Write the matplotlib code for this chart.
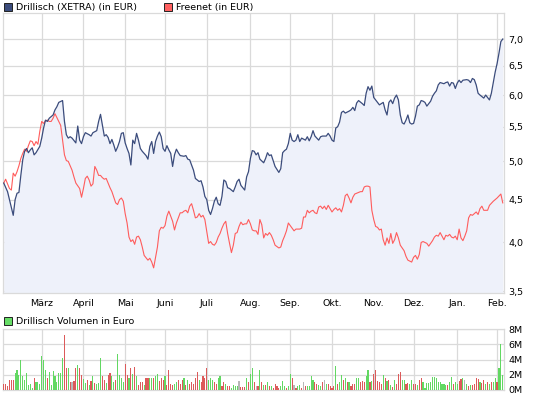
import numpy as np
import pandas as pd
import matplotlib
matplotlib.use("Agg")
import matplotlib.pyplot as plt
from matplotlib.patches import Rectangle

# ---------------- data ----------------
start_date = "2009-02-02"
n_days = 264

drillisch_day = [0, 2, 3, 5, 6, 7, 8, 9, 10, 11, 12, 13, 14, 15, 16, 17, 19, 20, 21, 22, 23, 24, 26, 27, 28, 29,
                 31, 32, 33, 34, 35, 36, 38, 39, 40, 41, 42, 43, 45, 46, 47, 49, 50, 51, 52, 53, 54, 55, 56, 57,
                 58, 59, 60, 61, 62, 63, 64, 65, 66, 67, 68, 69, 70, 71, 72, 73, 75, 76, 77, 78, 79, 80, 81, 82,
                 83, 84, 85, 86, 87, 88, 89, 90, 91, 92, 93, 95, 96, 97, 98, 99, 100, 101, 103, 104, 105, 106,
                 107, 108, 109, 110, 111, 112, 113, 114, 115, 116, 117, 118, 119, 121, 122, 123, 124, 125, 126,
                 127, 128, 129, 130, 131, 132, 133, 134, 135, 137, 138, 139, 140, 141, 142, 143, 145, 146, 147,
                 148, 149, 150, 151, 152, 153, 154, 155, 156, 157, 159, 160, 161, 162, 163, 164, 166, 167, 168,
                 170, 171, 172, 173, 174, 175, 176, 177, 178, 179, 180, 182, 183, 184, 185, 186, 187, 189, 190,
                 191, 192, 193, 194, 195, 196, 198, 199, 200, 201, 202, 203, 204, 205, 206, 207, 208, 209, 210,
                 211, 212, 213, 214, 215, 216, 217, 218, 219, 220, 221, 222, 223, 224, 225, 226, 227, 228, 229,
                 230, 232, 233, 234, 235, 236, 237, 238, 239, 240, 241, 242, 244, 245, 246, 247, 248, 249, 250,
                 251, 253, 254, 256, 257, 259, 260, 261, 262, 263]
drillisch_eur = [4.71, 4.60, 4.50, 4.31, 4.50, 4.58, 4.59, 4.81, 5.02, 5.14, 5.18, 5.12, 5.16, 5.19, 5.09, 5.12,
                 5.21, 5.33, 5.48, 5.60, 5.58, 5.63, 5.68, 5.76, 5.81, 5.88, 5.91, 5.58, 5.38, 5.33, 5.35, 5.33,
                 5.26, 5.51, 5.30, 5.25, 5.35, 5.41, 5.38, 5.36, 5.41, 5.44, 5.58, 5.69, 5.52, 5.36, 5.38, 5.34,
                 5.25, 5.31, 5.23, 5.14, 5.20, 5.28, 5.40, 5.41, 5.26, 5.18, 5.11, 4.95, 5.30, 5.25, 5.40, 5.30,
                 5.18, 5.14, 5.08, 5.03, 5.21, 5.28, 5.11, 5.28, 5.36, 5.42, 5.35, 5.18, 5.14, 5.22, 5.16, 5.11,
                 4.93, 5.09, 5.17, 5.12, 5.08, 5.07, 5.08, 5.03, 5.02, 4.95, 4.88, 4.77, 4.73, 4.74, 4.66, 4.54,
                 4.50, 4.37, 4.32, 4.39, 4.48, 4.53, 4.45, 4.43, 4.54, 4.75, 4.73, 4.65, 4.64, 4.60, 4.66, 4.73,
                 4.76, 4.68, 4.65, 4.62, 4.79, 4.86, 5.04, 5.15, 5.14, 5.09, 5.12, 5.03, 4.98, 5.04, 5.12, 5.08,
                 5.09, 5.01, 4.93, 4.85, 4.90, 5.12, 5.15, 5.17, 5.25, 5.40, 5.30, 5.28, 5.30, 5.38, 5.28, 5.33,
                 5.30, 5.35, 5.29, 5.35, 5.44, 5.36, 5.30, 5.35, 5.36, 5.36, 5.40, 5.36, 5.30, 5.28, 5.48, 5.50,
                 5.57, 5.72, 5.74, 5.71, 5.74, 5.76, 5.80, 5.75, 5.87, 5.91, 5.86, 5.83, 6.03, 6.14, 6.08, 6.15,
                 5.96, 5.92, 5.84, 5.86, 5.88, 5.76, 5.68, 5.88, 5.92, 5.86, 5.95, 6.00, 5.92, 5.68, 5.56, 5.54,
                 5.60, 5.68, 5.56, 5.54, 5.55, 5.66, 5.82, 5.84, 5.91, 5.90, 5.88, 5.82, 5.86, 5.90, 5.98, 6.03,
                 6.07, 6.17, 6.21, 6.19, 6.21, 6.22, 6.15, 6.21, 6.20, 6.11, 6.20, 6.25, 6.21, 6.25, 6.26, 6.25,
                 6.21, 6.28, 6.26, 6.17, 6.03, 6.00, 5.95, 6.00, 5.92, 6.03, 6.39, 6.54, 6.73, 6.95, 7.00]

freenet_day = [0, 1, 2, 3, 4, 5, 6, 7, 8, 9, 10, 11, 12, 13, 14, 15, 16, 17, 18, 19, 20, 21, 22, 23, 24, 25, 26,
               27, 29, 30, 31, 32, 33, 34, 35, 36, 37, 38, 40, 41, 42, 43, 44, 45, 46, 47, 48, 49, 50, 51, 52, 53,
               54, 55, 56, 57, 59, 60, 61, 62, 63, 64, 65, 66, 67, 68, 69, 70, 71, 72, 73, 74, 76, 77, 78, 79, 80,
               81, 82, 83, 84, 85, 86, 87, 88, 89, 90, 91, 92, 93, 94, 95, 96, 97, 98, 99, 100, 101, 102, 103, 104,
               105, 106, 107, 108, 109, 110, 111, 112, 113, 114, 115, 116, 117, 118, 119, 120, 121, 122, 123, 124,
               125, 126, 127, 128, 129, 130, 131, 132, 133, 134, 135, 136, 137, 138, 139, 140, 141, 142, 143, 145,
               146, 147, 148, 149, 150, 151, 152, 153, 154, 156, 157, 158, 159, 160, 161, 162, 163, 164, 165, 166,
               167, 168, 169, 170, 171, 172, 173, 174, 175, 176, 177, 178, 179, 180, 181, 182, 183, 184, 185, 187,
               188, 189, 190, 191, 192, 193, 194, 195, 196, 197, 198, 199, 200, 201, 202, 203, 204, 205, 206, 207,
               208, 209, 210, 211, 212, 213, 214, 215, 216, 217, 218, 219, 220, 221, 222, 223, 224, 225, 226, 227,
               228, 229, 230, 231, 232, 233, 234, 235, 236, 237, 238, 239, 240, 241, 242, 243, 244, 245, 246, 247,
               248, 249, 250, 251, 252, 253, 255, 256, 258, 260, 262, 263]
freenet_eur = [4.71, 4.76, 4.70, 4.64, 4.62, 4.84, 4.80, 4.86, 4.94, 5.04, 5.11, 5.17, 5.14, 5.22, 5.29, 5.28,
               5.22, 5.28, 5.24, 5.43, 5.58, 5.55, 5.59, 5.60, 5.58, 5.58, 5.63, 5.70, 5.58, 5.52, 5.30, 5.09,
               5.01, 5.00, 4.94, 4.88, 4.79, 4.71, 4.64, 4.53, 4.64, 4.77, 4.80, 4.75, 4.67, 4.70, 4.93, 4.88,
               4.81, 4.81, 4.78, 4.76, 4.77, 4.71, 4.65, 4.60, 4.46, 4.44, 4.50, 4.52, 4.48, 4.33, 4.22, 4.06,
               4.01, 4.03, 3.98, 4.06, 4.07, 4.03, 3.95, 3.86, 3.81, 3.83, 3.79, 3.73, 3.84, 3.95, 4.13, 4.17,
               4.16, 4.19, 4.30, 4.36, 4.30, 4.24, 4.14, 4.22, 4.28, 4.34, 4.34, 4.36, 4.37, 4.34, 4.42, 4.45,
               4.37, 4.28, 4.29, 4.33, 4.29, 4.31, 4.26, 4.12, 3.99, 4.01, 3.98, 3.97, 4.00, 4.06, 4.10, 4.16,
               4.21, 4.24, 4.10, 3.99, 3.89, 3.97, 4.10, 4.11, 4.18, 4.23, 4.20, 4.21, 4.21, 4.26, 4.21, 4.14,
               4.13, 4.13, 4.09, 4.26, 4.20, 4.05, 4.10, 4.08, 4.11, 4.08, 4.03, 3.97, 3.94, 3.95, 4.02, 4.07,
               4.13, 4.22, 4.19, 4.16, 4.13, 4.15, 4.15, 4.16, 4.29, 4.29, 4.37, 4.34, 4.36, 4.37, 4.34, 4.33,
               4.41, 4.42, 4.39, 4.42, 4.38, 4.43, 4.39, 4.35, 4.38, 4.40, 4.37, 4.39, 4.35, 4.43, 4.55, 4.57,
               4.52, 4.46, 4.53, 4.57, 4.59, 4.60, 4.60, 4.66, 4.67, 4.67, 4.66, 4.37, 4.26, 4.18, 4.17, 4.14,
               4.15, 4.03, 3.97, 4.05, 3.99, 4.10, 3.99, 4.03, 4.11, 4.05, 3.97, 3.94, 3.91, 3.85, 3.81, 3.80,
               3.79, 3.84, 3.86, 3.82, 3.87, 4.00, 4.01, 4.00, 3.99, 3.96, 3.99, 4.02, 4.06, 4.08, 4.07, 4.11,
               4.07, 4.03, 4.08, 4.07, 4.09, 4.06, 4.05, 4.07, 4.03, 4.15, 4.05, 4.02, 4.07, 4.13, 4.28, 4.32,
               4.31, 4.33, 4.35, 4.32, 4.39, 4.42, 4.37, 4.37, 4.43, 4.48, 4.52, 4.57, 4.46]

# Drillisch daily volume in million EUR
volume_mio = [0.8, 0.8, 0.45, 1.33, 1.33, 1.33, 2.2, 2.67, 1.95, 4.0,
              1.78, 1.33, 2.2, 0.6, 0.8, 0.27, 1.5, 1.0, 1.0, 0.8,
              4.5, 4.0, 2.67, 1.5, 2.4, 0.7, 2.5, 1.78, 1.0, 2.2,
              2.2, 4.2, 7.3, 2.9, 2.85, 1.07, 1.0, 1.2, 2.85, 3.3,
              2.85, 1.95, 1.4, 0.9, 1.33, 0.6, 1.2, 1.87, 0.9, 0.75,
              0.9, 4.27, 1.87, 1.33, 0.9, 1.95, 2.2, 1.87, 1.07, 1.33,
              4.8, 1.95, 1.6, 1.0, 3.4, 1.95, 1.5, 2.85, 2.1, 2.95,
              1.78, 0.7, 1.0, 1.0, 0.6, 1.5, 1.5, 1.6, 1.6, 1.6,
              1.87, 2.1, 1.2, 1.6, 1.33, 1.78, 0.7, 2.6, 0.8, 0.62,
              0.71, 0.98, 1.24, 0.71, 1.24, 1.5, 0.62, 1.24, 0.71, 0.98,
              0.8, 1.5, 2.4, 1.24, 0.98, 1.78, 1.6, 2.84, 1.24, 1.5,
              1.24, 0.98, 0.8, 1.5, 1.78, 0.53, 0.98, 0.8, 0.53, 0.53,
              0.27, 0.62, 0.53, 0.53, 1.2, 0.4, 0.4, 0.4, 1.5, 0.98,
              2.04, 2.84, 0.98, 0.44, 0.53, 2.58, 0.98, 0.62, 0.62, 1.07,
              0.53, 0.53, 0.27, 0.8, 0.53, 0.27, 0.44, 1.2, 0.44, 0.27,
              0.53, 2.04, 1.6, 0.62, 0.27, 0.53, 0.62, 0.27, 0.98, 0.53,
              0.53, 0.44, 1.87, 1.33, 1.07, 0.71, 0.62, 0.44, 1.07, 1.33,
              0.8, 0.8, 0.44, 0.27, 0.44, 3.1, 0.71, 1.07, 1.96, 1.24,
              1.6, 0.98, 1.07, 0.53, 0.8, 0.8, 1.6, 1.5, 1.07, 1.16,
              1.07, 1.87, 2.58, 0.98, 1.16, 2.13, 2.58, 1.16, 1.07, 0.71,
              1.96, 1.5, 1.16, 1.24, 0.62, 0.36, 1.33, 0.71, 2.04, 2.3,
              1.24, 1.33, 0.8, 0.89, 0.8, 1.33, 0.8, 0.71, 0.62, 1.33,
              1.6, 0.98, 0.27, 0.89, 0.89, 1.07, 1.69, 1.69, 1.6, 1.07,
              0.98, 0.71, 0.71, 0.62, 0.62, 1.07, 1.69, 0.8, 1.07, 0.8,
              1.16, 1.42, 1.5, 1.33, 0.8, 0.53, 0.62, 0.62, 0.71, 1.6,
              1.42, 0.98, 0.89, 1.24, 0.71, 0.98, 0.8, 1.07, 0.98, 1.5,
              0.98, 2.93, 6.04, 1.96]

# day direction of Drillisch: u = up, d = down, n = unchanged
volume_dir = ("d d d d d d u u u u  u u u u u u d u u u  u u u d u u u u u u  u u d d u d n d d u "
              "d d u u d u d u d u  u u d d u d d u u d  u u u u d d u d u d  u d d d u d d u u d "
              "u u d d d u d d d d  u u d d d u d u d d  d d d u d d d d u u  u d d u u d d u d d "
              "u u u u n d d d u d  u u d n d u d u d u  d u d d d d u u u d  u u d n d u u d n d "
              "u u u u d d u u d n  u d d d d u d u u d  u d u d d d u u d d  d u u d u d d d d d "
              "u d u d u d u d d d  u u d d u u d d u d  d u u u u u u u u u  u u u u d u u d u u "
              "d d u n u d u d d d  d u d d u d u d u u  d u u u").split()

month_labels = ["März", "April", "Mai", "Juni", "Juli", "Aug.", "Sep.", "Okt.", "Nov.", "Dez.", "Jan.", "Feb."]
price_ticks = [3.5, 4.0, 4.5, 5.0, 5.5, 6.0, 6.5, 7.0]
volume_ticks = [0, 2, 4, 6, 8]

# ---------------- styling ----------------
plt.rcParams["font.family"] = ["DejaVu Sans"]
FS = 6.8
GRID = "#dadada"
BLUE = "#3b4c7c"
RED = "#ff5c5c"
FILL = "#eef1fa"
dir_colors = {"u": "#62d862", "d": "#dc5a5a", "n": "#b8b8b8"}

W, H = 545, 398
fig = plt.figure(figsize=(W / 100, H / 100), dpi=100)

def frac_box(x0, y0, x1, y1):
    return [x0 / W, 1 - y1 / H, (x1 - x0) / W, (y1 - y0) / H]

dates = pd.bdate_range(start_date, periods=n_days)
months = np.asarray(dates.month)
month_pos = np.where(months[1:] != months[:-1])[0] + 1

# ---------------- price panel ----------------
ax = fig.add_axes(frac_box(2.8, 13.3, 503.7, 293.3))
ax.set_yscale("log")
ax.set_xlim(-0.5, n_days - 0.5)
ax.set_ylim(3.478, 7.513)
ax.fill_between(drillisch_day, drillisch_eur, 3.3, color=FILL, lw=0, zorder=1)
ax.plot(freenet_day, freenet_eur, color=RED, lw=0.8, zorder=3)
ax.plot(drillisch_day, drillisch_eur, color=BLUE, lw=0.9, zorder=4)

ax.yaxis.tick_right()
ax.set_yticks(price_ticks)
ax.set_yticklabels([f"{v:.1f}".replace(".", ",") for v in price_ticks])
ax.yaxis.set_minor_locator(matplotlib.ticker.NullLocator())
ax.set_xticks(month_pos)
ax.set_xticklabels(month_labels)
ax.tick_params(axis="both", length=0, labelsize=FS, colors="black")
ax.tick_params(axis="y", pad=3.5)
ax.tick_params(axis="x", pad=4)
ax.grid(True, color=GRID, lw=0.9, zorder=0)
ax.set_axisbelow(True)
for s in ax.spines.values():
    s.set_color(GRID)
    s.set_linewidth(0.9)

# ---------------- volume panel ----------------
av = fig.add_axes(frac_box(2.8, 329.3, 503.7, 389.8))
av.set_xlim(-0.5, n_days - 0.5)
av.set_ylim(0, 8)
av.bar(np.arange(n_days), volume_mio, width=0.6, color=[dir_colors[d] for d in volume_dir],
       lw=0, zorder=3, antialiased=False)
av.yaxis.tick_right()
av.set_yticks(volume_ticks)
av.set_yticklabels([f"{v}M" for v in volume_ticks])
av.set_xticks(month_pos)
av.set_xticklabels([])
av.tick_params(axis="both", length=0, labelsize=FS, colors="black")
av.tick_params(axis="y", pad=3.5)
av.grid(True, color=GRID, lw=0.9, zorder=0)
av.set_axisbelow(True)
for s in av.spines.values():
    s.set_color(GRID)
    s.set_linewidth(0.9)

# ---------------- legends ----------------
def legend_item(x_px, y_px, face, label):
    fig.patches.append(Rectangle((x_px / W, 1 - (y_px + 4) / H), 8 / W, 8 / H,
                                 transform=fig.transFigure, facecolor=face,
                                 edgecolor="#222222", lw=0.7))
    fig.text((x_px + 12) / W, 1 - y_px / H, label, fontsize=FS, va="center", ha="left")

legend_item(3.5, 7.2, BLUE, "Drillisch (XETRA) (in EUR)")
legend_item(163.5, 7.2, "#ff6060", "Freenet (in EUR)")
legend_item(3.5, 321.3, "#66dd66", "Drillisch Volumen in Euro")

fig.savefig("out.png", dpi=100)
